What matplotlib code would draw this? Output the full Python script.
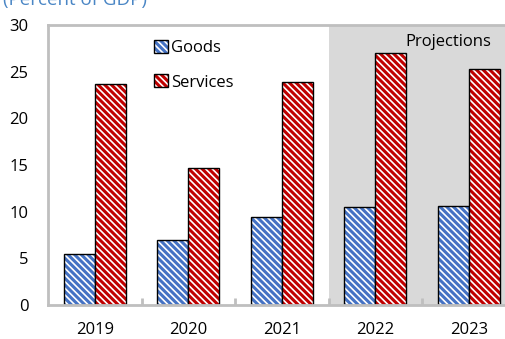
import numpy as np
import matplotlib.pyplot as plt
from matplotlib.patches import Patch

plt.rcParams['font.family'] = ['Open Sans', 'DejaVu Sans']
plt.rcParams['hatch.linewidth'] = 2.2

years = ['2019', '2020', '2021', '2022', '2023']
goods = [5.5, 7.0, 9.4, 10.5, 10.6]
services = [23.7, 14.7, 23.9, 27.0, 25.3]

blue = (0x44 / 255, 0x72 / 255, 0xC4 / 255, 1)
red = (0xC0 / 255, 0, 0, 1)
grey = '#BFBFBF'
hatch = '\\' * 5

fig = plt.figure(figsize=(5.05, 3.39), dpi=100)
ax = fig.add_axes([48 / 505, 34 / 339, 457 / 505, 280 / 339])

x = np.arange(len(years))
w = 0.33

# shaded projections area
ax.axvspan(2.5, 5, color='#D9D9D9', zorder=0, lw=0)

bars_g = ax.bar(x - w / 2, goods, w, facecolor='white', edgecolor='black', linewidth=1,
                hatch=hatch, zorder=2)
for b in bars_g:
    b._hatch_color = blue
bars_s = ax.bar(x + w / 2, services, w, facecolor='white', edgecolor='black', linewidth=1,
                hatch=hatch, zorder=2)
for b in bars_s:
    b._hatch_color = red

ax.set_xlim(-0.5, -0.5 + 457 / 93.5)
ax.set_ylim(0, 30)
ax.set_yticks(range(0, 31, 5))
ax.set_xticks(x)
ax.set_xticklabels(years)
ax.set_xticks(np.arange(0.5, 4, 1), minor=True)
ax.tick_params(axis='x', which='major', length=0, pad=12, labelsize=12)
ax.tick_params(axis='x', which='minor', direction='in', length=5, color=grey, width=2)
ax.tick_params(axis='y', length=0, pad=14, labelsize=12)

for s in ['left', 'bottom', 'top']:
    ax.spines[s].set_color(grey)
    ax.spines[s].set_linewidth(2)
ax.spines['right'].set_visible(False)

ax.text(4.24, 28.2, 'Projections', ha='right', va='center', fontsize=12)

h1 = Patch(facecolor='white', edgecolor='black', hatch=hatch)
h1._hatch_color = blue
h2 = Patch(facecolor='white', edgecolor='black', hatch=hatch)
h2._hatch_color = red
ax.legend([h1, h2], ['Goods', 'Services'], loc='upper left', bbox_to_anchor=(0.2, 1.0),
          frameon=False, fontsize=12, handlelength=0.8, handleheight=0.8,
          handletextpad=0.2, labelspacing=1.1)

fig.text(0.005, 1.0, '(Percent of GDP)', color='#4A86C5', fontsize=13.5, ha='left', va='center')

fig.savefig('out.png', dpi=100)
